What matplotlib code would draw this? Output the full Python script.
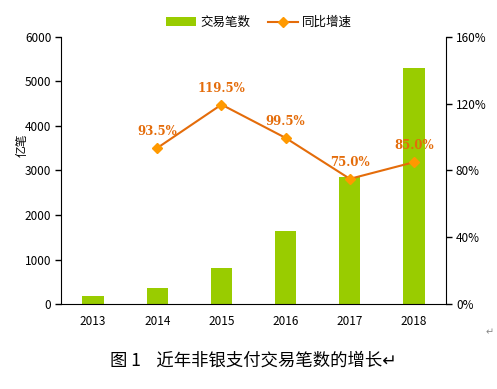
import matplotlib
matplotlib.use("Agg")
import matplotlib.pyplot as plt
from matplotlib.ticker import FuncFormatter

plt.rcParams['font.family'] = ['Noto Sans CJK SC', 'DejaVu Sans']

years = ['2013', '2014', '2015', '2016', '2017', '2018']
volume = [180, 365, 815, 1640, 2855, 5300]
growth_years = ['2014', '2015', '2016', '2017', '2018']
growth = [93.5, 119.5, 99.5, 75.0, 85.0]
growth_labels = ['93.5%', '119.5%', '99.5%', '75.0%', '85.0%']

bar_color = '#99CC00'
line_color = '#E46C0A'
marker_color = '#FF9900'

fig = plt.figure(figsize=(4.97, 3.89), dpi=100)
ax = fig.add_axes([0.1227, 0.2185, 0.775, 0.6864])
x = list(range(len(years)))
ax.bar(x, volume, width=0.33, color=bar_color, label='交易笔数', zorder=2)
ax.set_xlim(-0.5, 5.5)
ax.set_ylim(0, 6000)
ax.set_yticks([0, 1000, 2000, 3000, 4000, 5000, 6000])
ax.set_xticks(x)
ax.set_xticklabels(years)
ax.tick_params(axis='x', length=0, labelsize=8.5, pad=8)
ax.tick_params(axis='y', length=4, width=1, labelsize=8.5, direction='out', pad=3)
ax.spines['top'].set_visible(False)
ax.spines['right'].set_visible(False)
ax.set_ylabel('亿笔', fontsize=8.5)
ax.yaxis.set_label_coords(-0.085, 0.595)

ax2 = ax.twinx()
gx = [years.index(y) for y in growth_years]
ax2.plot(gx, growth, color=line_color, lw=1.5, marker='D', markersize=5,
         markerfacecolor=marker_color, markeredgecolor=marker_color, label='同比增速', zorder=3)
ax2.set_ylim(0, 160)
ax2.set_yticks([0, 40, 80, 120, 160])
ax2.yaxis.set_major_formatter(FuncFormatter(lambda v, p: f'{int(v)}%'))
ax2.tick_params(axis='y', length=4, width=1, labelsize=8.5, direction='out', pad=3)
for s in ['top', 'left', 'bottom']:
    ax2.spines[s].set_visible(False)
for xi, yi, lab in zip(gx, growth, growth_labels):
    ax2.annotate(lab, (xi, yi), xytext=(0, 7), textcoords='offset points',
                 ha='center', va='bottom', color=line_color, fontsize=8.5,
                 fontweight='bold', family='DejaVu Serif')

h1, l1 = ax.get_legend_handles_labels()
h2, l2 = ax2.get_legend_handles_labels()
fig.legend(h1 + h2, l1 + l2, loc='center', bbox_to_anchor=(0.521, 0.942), ncol=2,
           frameon=False, fontsize=9, handlelength=2.4, handletextpad=0.3,
           columnspacing=1.4)

fig.text(0.51, 0.072, '图 1    近年非银支付交易笔数的增长↵', ha='center', va='center',
         fontsize=12.5)
fig.text(0.985, 0.145, '↵', ha='center', va='center', fontsize=7, color='#888888')

fig.savefig('out.png', dpi=100)
